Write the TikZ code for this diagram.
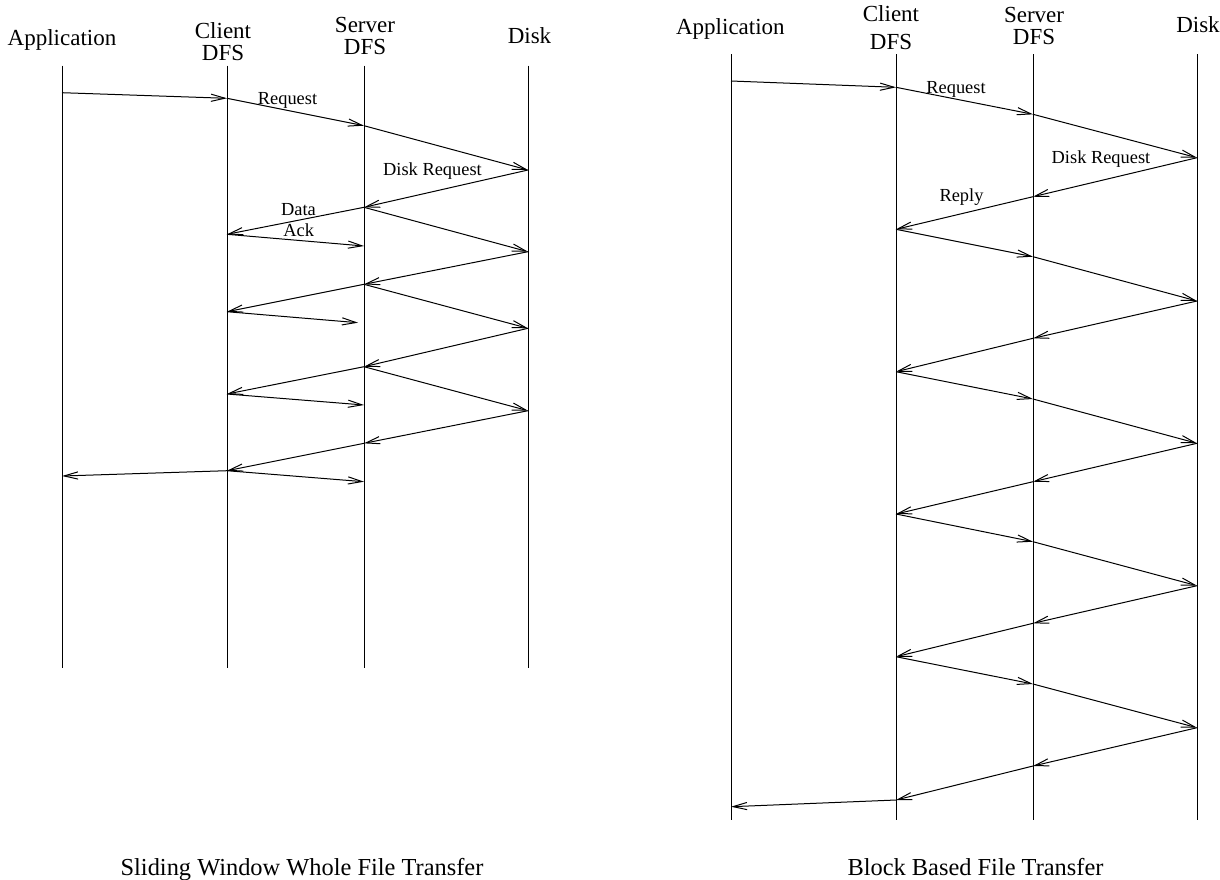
\documentclass[tikz,border=0pt]{standalone}
\usepackage{fontspec}
\setmainfont{Liberation Serif}
\usepackage{tikz}
\usetikzlibrary{arrows.meta}

\begin{document}
\begin{tikzpicture}[x=0.5pt,y=-0.5pt,line width=0.5pt,
  >={Straight Barb[length=7pt,width=3.6pt]},
  hdr/.style={inner sep=0pt,anchor=base,align=center,font=\fontsize{11.5}{10}\selectfont},
  lbl/.style={inner sep=0pt,anchor=base,font=\fontsize{9.2}{11}\selectfont},
  captxt/.style={inner sep=0pt,anchor=base,font=\fontsize{12.2}{14}\selectfont}]
\useasboundingbox (0,0) rectangle (1220,879);

% left: sliding window
\node[hdr] (lapp) at (62,45.7) {Application};
\node[hdr] (lcli) at (223,60) {Client\\[0.9pt]DFS};
\node[hdr] (lsrv) at (365,54.5) {Server\\[1pt]DFS};
\node[hdr] (ldsk) at (529.5,43.3) {Disk};
\draw (62,65.7) -- (62,667.7);
\draw (227,65.7) -- (227,667.7);
\draw (364,65.7) -- (364,667.7);
\draw (528,65.7) -- (528,667.7);
\coordinate (la1) at (62,92.7);
\coordinate (lc1) at (227,98.3);
\coordinate (ls1) at (364,125.7);
\coordinate (ld1) at (528,170);
\coordinate (ls2) at (364,207.3);
\coordinate (lc2) at (227,234.3);
\coordinate (ls3) at (364,246);
\coordinate (ld2) at (528,251.7);
\coordinate (ls4) at (364,284.3);
\coordinate (lc3) at (227,311.7);
\coordinate (lx) at (358,322.7);
\coordinate (ld3) at (528,328.3);
\coordinate (ls5) at (364,366.7);
\coordinate (lc4) at (227,394);
\coordinate (ls6) at (364,405);
\coordinate (ld4) at (528,410.7);
\coordinate (ls7) at (364,443.3);
\coordinate (lc5) at (227,470.7);
\coordinate (la2) at (62,476);
\coordinate (ls8) at (364,481.7);
\draw[->] (la1) -- (lc1);
\draw[->] (lc1) -- (ls1);
\draw[->] (ls1) -- (ld1);
\draw[->] (ld1) -- (ls2);
\draw[->] (ls2) -- (lc2);
\draw[->] (lc2) -- (ls3);
\draw[->] (ls2) -- (ld2);
\draw[->] (ld2) -- (ls4);
\draw[->] (ls4) -- (lc3);
\draw[->] (lc3) -- (lx);
\draw[->] (ls4) -- (ld3);
\draw[->] (ld3) -- (ls5);
\draw[->] (ls5) -- (lc4);
\draw[->] (lc4) -- (ls6);
\draw[->] (ls5) -- (ld4);
\draw[->] (ld4) -- (ls7);
\draw[->] (ls7) -- (lc5);
\draw[->] (lc5) -- (la2);
\draw[->] (lc5) -- (ls8);
\node[lbl] (lreq) at (287.5,104) {Request};
\node[lbl] (ldreq) at (432.5,175) {Disk Request};
\node[lbl] (ldata) at (298.5,215) {Data};
\node[lbl] (lack) at (298.7,236.7) {Ack};
\node[captxt] (lcap) at (302,875) {Sliding Window Whole File Transfer};

% right: block based
\node[hdr] (rapp) at (730.4,34) {Application};
\node[hdr] (rcli) at (891,49.3) {Client\\[3.8pt]DFS};
\node[hdr] (rsrv) at (1034,44) {Server\\[1pt]DFS};
\node[hdr] (rdsk) at (1198,32.3) {Disk};
\draw (731,54.3) -- (731,820);
\draw (896,54.3) -- (896,820);
\draw (1033,54.3) -- (1033,820);
\draw (1197,54.3) -- (1197,820);
\coordinate (ra1) at (731,81);
\coordinate (rc1) at (896,87.3);
\coordinate (rs1) at (1033,114.3);
\coordinate (rd1) at (1197,157.7);
\coordinate (rs2) at (1033,196.7);
\coordinate (rc2) at (896,229.3);
\coordinate (rs3) at (1033,256.7);
\coordinate (rd2) at (1197,301);
\coordinate (rs4) at (1033,338.3);
\coordinate (rc3) at (896,371.7);
\coordinate (rs5) at (1033,399);
\coordinate (rd3) at (1197,443.3);
\coordinate (rs6) at (1033,481.7);
\coordinate (rc4) at (896,514);
\coordinate (rs7) at (1033,541.7);
\coordinate (rd4) at (1197,585.7);
\coordinate (rs8) at (1033,623.3);
\coordinate (rc5) at (896,656.7);
\coordinate (rs9) at (1033,684);
\coordinate (rd5) at (1197,727.7);
\coordinate (rs10) at (1033,766);
\coordinate (rc6) at (896,800);
\coordinate (ra2) at (731,806.7);
\draw[->] (ra1) -- (rc1);
\draw[->] (rc1) -- (rs1);
\draw[->] (rs1) -- (rd1);
\draw[->] (rd1) -- (rs2);
\draw[->] (rs2) -- (rc2);
\draw[->] (rc2) -- (rs3);
\draw[->] (rs3) -- (rd2);
\draw[->] (rd2) -- (rs4);
\draw[->] (rs4) -- (rc3);
\draw[->] (rc3) -- (rs5);
\draw[->] (rs5) -- (rd3);
\draw[->] (rd3) -- (rs6);
\draw[->] (rs6) -- (rc4);
\draw[->] (rc4) -- (rs7);
\draw[->] (rs7) -- (rd4);
\draw[->] (rd4) -- (rs8);
\draw[->] (rs8) -- (rc5);
\draw[->] (rc5) -- (rs9);
\draw[->] (rs9) -- (rd5);
\draw[->] (rd5) -- (rs10);
\draw[->] (rs10) -- (rc6);
\draw[->] (rc6) -- (ra2);
\node[lbl] (rreq) at (956,93.3) {Request};
\node[lbl] (rdreq) at (1101,163.3) {Disk Request};
\node[lbl] (rrep) at (961.5,201.7) {Reply};
\node[captxt] (rcap) at (975.5,875) {Block Based File Transfer};
\end{tikzpicture}
\end{document}
